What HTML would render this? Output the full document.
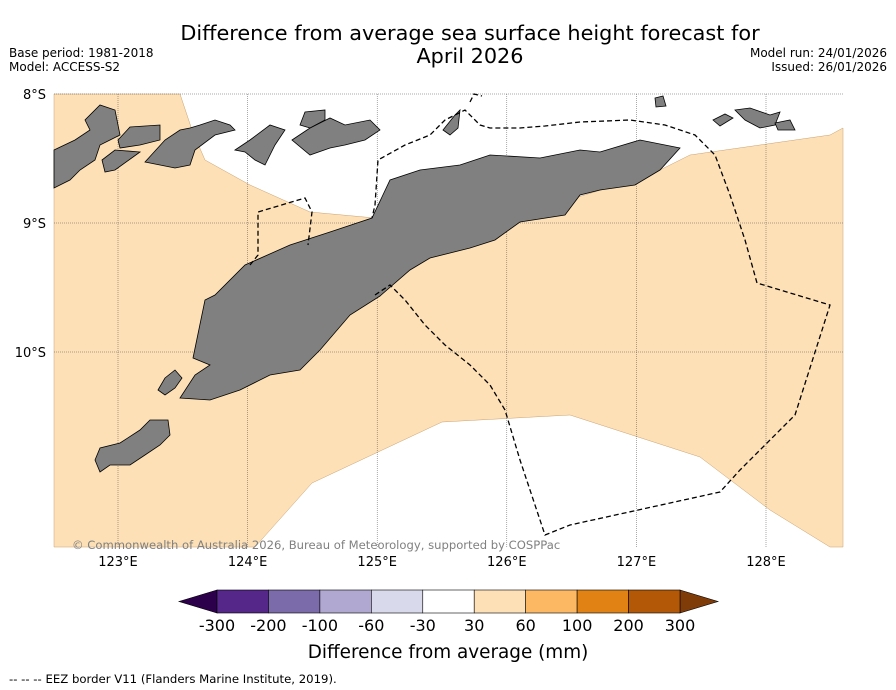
<!DOCTYPE html>
<html><head><meta charset="utf-8">
<style>
body{margin:0;background:#fff;font-family:"Liberation Sans","DejaVu Sans",sans-serif;}
svg{display:block}
text{font-family:"DejaVu Sans","Liberation Sans",sans-serif;}
</style></head>
<body>
<svg id="chart" width="896" height="690" viewBox="0 0 896 690">
<rect width="896" height="690" fill="#fff"/>
<text x="470" y="40" font-size="20.8" text-anchor="middle">Difference from average sea surface height forecast for</text>
<text x="470" y="63" font-size="20.8" text-anchor="middle">April 2026</text>
<text x="9" y="57" font-size="12">Base period: 1981-2018</text>
<text x="9" y="71" font-size="12">Model: ACCESS-S2</text>
<text x="887" y="57" font-size="12" text-anchor="end">Model run: 24/01/2026</text>
<text x="887" y="71" font-size="12" text-anchor="end">Issued: 26/01/2026</text>

<g>
<polygon fill="#fde0b6" stroke="#c9a070" stroke-width="0.5"
points="54,94 180,94 192,130 205,160 250,185 310,212 375,218 470,230 650,175 690,155 830,135 843,128 843,547 830,547 770,510 700,457 570,415 442,422 312,483 255,547 54,547"/>
<g id="grid"></g>
<g fill="#808080" stroke="#000" stroke-width="0.8">
<polygon points="193,358 205,300 215,295 245,265 290,245 330,232 372,218 390,180 420,170 460,165 490,155 540,158 580,150 600,152 640,140 680,148 660,170 635,185 600,190 580,195 565,215 520,222 495,240 470,248 430,258 410,270 380,296 350,315 320,350 300,370 270,375 240,390 210,400 180,398 195,375 210,365"/>
<polygon points="54,150 75,140 90,130 85,120 100,105 115,110 120,135 100,145 95,160 80,170 70,180 54,188"/>
<polygon points="118,140 130,127 160,125 160,140 140,145 120,148"/>
<polygon points="102,160 115,150 140,152 115,170 105,172"/>
<polygon points="145,162 165,140 180,130 190,128 200,125 215,120 230,125 235,130 215,135 195,150 190,165 175,168"/>
<polygon points="235,150 250,140 270,125 285,130 275,145 265,165 255,160 245,152"/>
<polygon points="292,140 310,128 330,118 345,125 370,120 380,130 365,140 345,145 330,148 310,155"/>
<polygon points="300,125 305,112 325,110 325,120 310,128"/>
<polygon points="443,130 455,115 460,110 458,128 450,135"/>
<polygon points="95,460 100,448 120,443 140,430 150,420 168,420 170,435 160,445 145,455 130,465 110,465 100,472"/>
<polygon points="158,390 165,378 175,370 182,378 175,388 165,395"/>
<polygon points="655,98 663,96 666,106 656,107"/>
<polygon points="713,120 725,114 733,118 720,126"/>
<polygon points="735,110 750,108 770,115 780,112 775,125 760,128 745,120"/>
<polygon points="775,123 790,120 795,130 778,130"/>
</g>
<polyline fill="none" stroke="#000" stroke-width="1.3" stroke-dasharray="5,3"
points="375,295 390,285 405,300 425,325 445,345 470,365 490,385 505,410 520,460 545,535 570,525 720,492 740,470 765,445 795,415 830,305 757,283 745,240 730,195 715,155 695,135 665,125 630,120 580,122 545,126 520,128 490,128 480,125 465,110 445,120 430,135 405,145 378,160 375,205 372,218"/>
<polyline fill="none" stroke="#000" stroke-width="1.3" stroke-dasharray="5,3"
points="250,265 258,255 258,212 305,198 312,212 308,245"/>
<polyline fill="none" stroke="#000" stroke-width="1.3" stroke-dasharray="5,3" points="470,102 474,94 482,96"/>
<text x="72" y="549" font-size="11.6" fill="#808080">© Commonwealth of Australia 2026, Bureau of Meteorology, supported by COSPPac</text>
</g>
<g id="axes"></g>
<g id="cbar"></g>
<text x="448" y="658" font-size="18.4" text-anchor="middle">Difference from average (mm)</text>
<text x="9" y="683" font-size="11.7">--  --  -- EEZ border V11 (Flanders Marine Institute, 2019).</text>
</svg>
<script>
const lonTicks=[123,124,125,126,127,128];
const latTicks=[8,9,10];
const cbarLabels=["-300","-200","-100","-60","-30","30","60","100","200","300"];
const cbarColors=["#542788","#7b6baa","#b0a8d0","#d8daeb","#ffffff","#fee0b6","#fdb863","#e08214","#b35806"];
const NS="http://www.w3.org/2000/svg";
function xLon(l){return 118+(l-123)*129.6;}
function yLat(l){return 94+(l-8)*129;}
function mk(t,a,p){const e=document.createElementNS(NS,t);for(const k in a)e.setAttribute(k,a[k]);p.appendChild(e);return e;}
const grid=document.getElementById('grid'),axes=document.getElementById('axes'),cb=document.getElementById('cbar');
lonTicks.forEach(l=>{const x=xLon(l);
 const g=mk('line',{x1:x,x2:x,y1:94,y2:547,stroke:'#555','stroke-width':0.5,'stroke-dasharray':'1,1'},grid);
 
 
 const t=mk('text',{x:x,y:566,'font-size':13,'text-anchor':'middle'},axes);t.textContent=l+'°E';
 
 });
latTicks.forEach(l=>{const y=yLat(l);
 const g=mk('line',{x1:54,x2:843,y1:y,y2:y,stroke:'#555','stroke-width':0.5,'stroke-dasharray':'1,1'},grid);
 
 
 const t=mk('text',{x:46,y:y+5,'font-size':13,'text-anchor':'end'},axes);t.textContent=l+'°S';
 
 });
const x0=217,x1=680,y0=590,h=23,w=(x1-x0)/cbarColors.length;
const lt=mk('polygon',{points:`${x0},${y0} ${x0-38},${y0+h/2} ${x0},${y0+h}`,fill:'#2d004b',stroke:'#000','stroke-width':0.6},cb);


const rt=mk('polygon',{points:`${x1},${y0} ${x1+38},${y0+h/2} ${x1},${y0+h}`,fill:'#7f3b08',stroke:'#000','stroke-width':0.6},cb);


cbarColors.forEach((c,i)=>{const r=mk('rect',{x:x0+i*w,y:y0,width:w,height:h,fill:c,stroke:'#000','stroke-width':0.6},cb);
 
 });
cbarLabels.forEach((s,i)=>{const t=mk('text',{x:x0+i*w,y:631,'font-size':16,'text-anchor':'middle'},cb);t.textContent=s;
 
 });
</script>
</body></html>
